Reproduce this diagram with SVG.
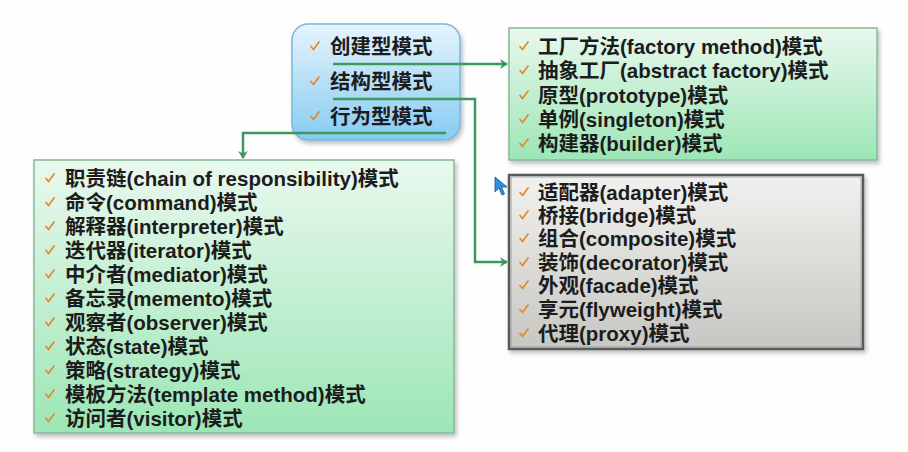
<svg xmlns="http://www.w3.org/2000/svg" width="908" height="452" viewBox="0 0 908 452">
<defs>
<linearGradient id="gBlue" x1="0" y1="0" x2="0" y2="1">
<stop offset="0" stop-color="#e6f4fc"/><stop offset="1" stop-color="#86cbf3"/>
</linearGradient>
<linearGradient id="gGreen" x1="0" y1="0" x2="0" y2="1">
<stop offset="0" stop-color="#e9f8ee"/><stop offset="1" stop-color="#9ce6b6"/>
</linearGradient>
<linearGradient id="gGrey" x1="0" y1="0" x2="0" y2="1">
<stop offset="0" stop-color="#f1f1ef"/><stop offset="1" stop-color="#c6c6c2"/>
</linearGradient>
<filter id="sh" x="-5%" y="-5%" width="110%" height="115%">
<feDropShadow dx="2" dy="3" stdDeviation="2" flood-color="#000" flood-opacity="0.25"/>
</filter>
<marker id="arr" markerWidth="10" markerHeight="10" refX="7" refY="5" orient="auto" markerUnits="userSpaceOnUse">
<path d="M0,0 L8,5 L0,10 L2.5,5 Z" fill="#3a9a5c"/>
</marker>
<path id="ck" d="M-4,0.5 L-1.5,3.5 L4,-4" fill="none" stroke="#e8862a" stroke-width="1.7" stroke-linecap="round" stroke-linejoin="round"/>
</defs>
<style>
text{font-family:"Liberation Sans","Noto Sans CJK SC",sans-serif;font-weight:bold;font-size:20.5px;fill:#1c1c1c;dominant-baseline:central}
.conn{fill:none;stroke:#3a9a5c;stroke-width:2.5}
</style>
<rect width="908" height="452" fill="#fefefe"/>

<g id="node-creational">
<rect x="509" y="28" width="368" height="132" fill="url(#gGreen)" stroke="#86b898" stroke-width="1.5" filter="url(#sh)"/>
<use href="#ck" x="524" y="46"/><text x="538" y="46">工厂方法(factory method)模式</text>
<use href="#ck" x="524" y="70"/><text x="538" y="70">抽象工厂(abstract factory)模式</text>
<use href="#ck" x="524" y="95"/><text x="538" y="95">原型(prototype)模式</text>
<use href="#ck" x="524" y="119"/><text x="538" y="119">单例(singleton)模式</text>
<use href="#ck" x="524" y="143"/><text x="538" y="143">构建器(builder)模式</text>
</g>

<g id="node-structural">
<rect x="509" y="175" width="354" height="174" fill="url(#gGrey)" stroke="#5a5a5a" stroke-width="2.5" filter="url(#sh)"/>
<rect x="511" y="177" width="350" height="170" fill="none" stroke="#9a9a9a" stroke-width="0.8"/>
<use href="#ck" x="524" y="192"/><text x="538" y="192">适配器(adapter)模式</text>
<use href="#ck" x="524" y="215"/><text x="538" y="215">桥接(bridge)模式</text>
<use href="#ck" x="524" y="238"/><text x="538" y="238">组合(composite)模式</text>
<use href="#ck" x="524" y="262"/><text x="538" y="262">装饰(decorator)模式</text>
<use href="#ck" x="524" y="285"/><text x="538" y="285">外观(facade)模式</text>
<use href="#ck" x="524" y="309"/><text x="538" y="309">享元(flyweight)模式</text>
<use href="#ck" x="524" y="333"/><text x="538" y="333">代理(proxy)模式</text>
</g>

<g id="node-behavioral">
<rect x="34" y="160" width="420" height="273" fill="url(#gGreen)" stroke="#86b898" stroke-width="1.5" filter="url(#sh)"/>
<use href="#ck" x="50" y="178"/><text x="65" y="178">职责链(chain of responsibility)模式</text>
<use href="#ck" x="50" y="202"/><text x="65" y="202">命令(command)模式</text>
<use href="#ck" x="50" y="226"/><text x="65" y="226">解释器(interpreter)模式</text>
<use href="#ck" x="50" y="250"/><text x="65" y="250">迭代器(iterator)模式</text>
<use href="#ck" x="50" y="274"/><text x="65" y="274">中介者(mediator)模式</text>
<use href="#ck" x="50" y="298"/><text x="65" y="298">备忘录(memento)模式</text>
<use href="#ck" x="50" y="322"/><text x="65" y="322">观察者(observer)模式</text>
<use href="#ck" x="50" y="346"/><text x="65" y="346">状态(state)模式</text>
<use href="#ck" x="50" y="370"/><text x="65" y="370">策略(strategy)模式</text>
<use href="#ck" x="50" y="394"/><text x="65" y="394">模板方法(template method)模式</text>
<use href="#ck" x="50" y="418"/><text x="65" y="418">访问者(visitor)模式</text>
</g>

<g id="node-categories">
<rect x="292" y="24" width="168" height="116" rx="16" ry="16" fill="url(#gBlue)" stroke="#7ab6dc" stroke-width="1.5" filter="url(#sh)"/>
<use href="#ck" x="315" y="46"/><text x="330" y="46" font-size="19.5">创建型模式</text>
<use href="#ck" x="315" y="81"/><text x="330" y="81" font-size="19.5">结构型模式</text>
<use href="#ck" x="315" y="116"/><text x="330" y="116" font-size="19.5">行为型模式</text>
</g>

<g id="connectors">
<path class="conn" d="M333,64 L507,64" marker-end="url(#arr)"/>
<path class="conn" d="M333,99 L475,99 L475,262 L507,262" marker-end="url(#arr)"/>
<path class="conn" d="M446,133 L243,133 L243,158" marker-end="url(#arr)"/>
</g>

<g id="cursor">
<path d="M495,177 L495,192 L499,188 L502,195 L504.5,194 L501.5,187 L507,187 Z" fill="#2f8fe0" stroke="#1a4f8a" stroke-width="0.8"/>
</g>
</svg>
